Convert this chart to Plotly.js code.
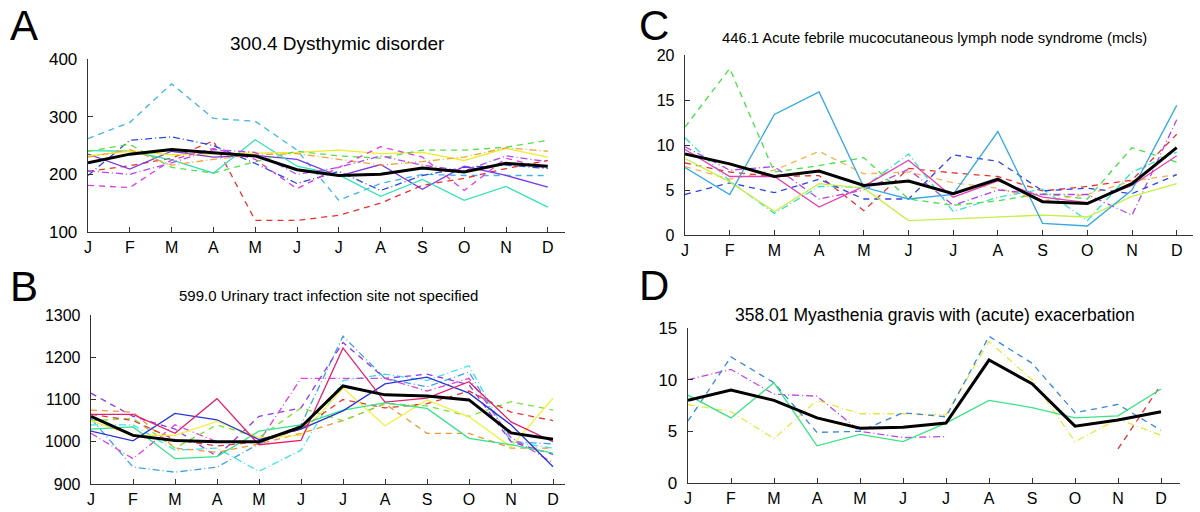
<!DOCTYPE html>
<html><head><meta charset="utf-8">
<script src="https://cdn.plot.ly/plotly-3.0.1.min.js"></script>
<style>html,body{margin:0;padding:0;background:#fff}#chart{width:1200px;height:512px}</style>
</head><body><div id="chart"></div>
<script>
// ---------- data ----------
const months = ["J","F","M","A","M","J","J","A","S","O","N","D"];

// Panel A: 300.4 Dysthymic disorder
const A_mean      = [220,235,243,238,232,208,198,200,211,204,219,214];
const A_lightblue = [262,290,357,297,292,242,155,184,200,198,198,198];
const A_red       = [205,215,228,258,120,120,129,150,181,193,210,224];
const A_blue      = [198,259,265,250,219,184,205,172,198,212,216,210];
const A_purple    = [235,209,240,230,233,226,197,217,174,214,198,178];
const A_turq      = [241,240,225,202,260,214,199,162,191,155,179,143];
const A_yellow    = [232,240,234,235,236,238,242,236,238,224,245,230];
const A_green     = [240,252,212,202,222,240,232,228,242,242,247,259];
const A_orange    = [230,243,216,226,234,236,226,216,222,230,246,240];
const A_magenta   = [181,177,225,245,226,175,212,248,230,172,228,210];
const A_violet    = [206,200,220,243,238,200,212,232,216,206,232,222];

// Panel B: 599.0 Urinary tract infection site not specified
const B_mean      = [1060,1015,1003,1000,1000,1035,1132,1111,1108,1099,1021,1006];
const B_crimson   = [1065,1065,1020,1102,993,1003,1222,1094,1103,1142,1047,1000];
const B_blue      = [1025,1002,1067,1052,1005,1030,1073,1137,1153,1115,1040,941];
const B_yellow    = [1050,1015,1015,1048,1010,1015,1127,1038,1099,1059,988,1103];
const B_seagreen  = [1030,1035,960,965,1025,1040,1075,1092,1079,1008,993,973];
const B_lightblue = [1055,940,928,940,995,1040,1250,1150,1130,1165,1000,995];
const B_cyan      = [1040,1040,980,985,930,980,1145,1160,1145,1180,1000,985];
const B_purple    = [1115,1060,1030,965,1060,1080,1235,1150,1160,1135,1000,970];
const B_magenta   = [1020,960,1040,1000,1000,1150,1150,1150,1120,1150,1010,950];
const B_orange    = [1075,1070,985,975,995,1020,1050,1090,1020,1020,985,985];
const B_green     = [1050,1055,985,1040,1010,1080,1050,1090,1085,1060,1095,1075];
const B_red       = [1065,1050,1005,990,1000,1030,1100,1080,1090,1120,1070,1050];

// Panel C: 446.1 Acute febrile mucocutaneous lymph node syndrome (mcls)
const C_mean      = [9.0,7.9,6.5,7.1,5.5,6.0,4.6,6.2,3.7,3.5,5.7,9.7];
const C_lightblue = [7.5,4.5,13.4,15.9,5.3,4.0,4.5,11.5,1.3,1.0,5.0,14.4];
const C_green     = [12.0,18.5,7.0,7.7,8.6,4.0,3.3,3.8,4.6,4.0,9.7,8.1];
const C_lime      = [8.5,5.9,2.6,5.7,5.2,1.6,1.8,2.0,2.2,2.0,4.3,5.7];
const C_orange    = [7.6,6.2,7.2,9.3,6.8,7.0,5.8,5.2,3.8,4.5,6.0,6.7];
const C_pink      = [9.5,6.5,6.5,3.1,5.4,8.3,4.2,6.0,4.2,3.6,5.5,8.8];
const C_purple    = [9.8,7.2,7.6,4.0,5.0,7.3,3.3,5.0,4.5,4.5,2.2,12.8];
const C_red       = [8.0,7.0,6.5,6.6,2.7,7.4,6.9,6.5,4.9,5.4,6.1,11.2];
const C_cyan      = [10.8,6.0,2.4,5.4,5.3,9.0,2.6,4.2,5.1,1.6,7.0,9.2];
const C_blue      = [4.5,5.8,4.7,6.2,4.0,4.0,8.9,8.2,4.9,5.2,4.6,6.7];

// Panel D: 358.01 Myasthenia gravis with (acute) exacerbation
const D_mean      = [8.0,9.0,8.0,6.3,5.3,5.4,5.8,11.9,9.6,5.5,6.1,6.9];
const D_blue      = [6.0,12.2,9.7,4.9,5.0,6.8,6.4,14.2,11.6,6.8,7.6,5.1];
const D_magenta   = [10.0,11.0,8.6,8.4,5.0,4.4,4.5,null,null,null,null,null];
const D_yellow    = [7.6,6.9,4.3,8.0,6.7,6.7,6.6,13.7,10.0,4.0,6.2,4.6];
const D_green     = [8.5,6.3,9.7,3.6,4.7,4.0,5.8,8.0,7.3,6.3,6.5,9.1];
const D_red       = [null,null,null,null,null,null,null,null,null,null,3.3,9.5];

// ---------- styles ----------
const idx = months.map((_, i) => i);
const traces = [];
function add(panel, y, color, dash, width) {
  const ax = {A:["x","y"],B:["x2","y2"],C:["x3","y3"],D:["x4","y4"]}[panel];
  traces.push({x: idx, y: y, xaxis: ax[0], yaxis: ax[1], type: "scatter", mode: "lines",
    line: {color: color, dash: dash, width: width || 1.3}, connectgaps: false,
    hoverinfo: "skip", showlegend: false});
}
const dashL = "6px,5px", dashDot = "7px,3px,1px,3px";

add("A", A_lightblue, "#3db4e6", dashL);
add("A", A_red, "#e8302e", dashL);
add("A", A_blue, "#2c48e0", dashDot);
add("A", A_purple, "#7a3ae0", "solid");
add("A", A_turq, "#35e0b8", "solid");
add("A", A_yellow, "#ecec2a", "solid");
add("A", A_green, "#52e04a", dashL);
add("A", A_orange, "#f3a23a", dashDot);
add("A", A_magenta, "#e23ae0", dashL);
add("A", A_violet, "#b04af0", dashDot);
add("A", A_mean, "#000000", "solid", 3);

add("B", B_lightblue, "#3ea2e4", dashDot);
add("B", B_cyan, "#3ee2ea", dashDot);
add("B", B_purple, "#8c36f0", dashL);
add("B", B_magenta, "#e040e0", dashDot);
add("B", B_orange, "#f29438", dashL);
add("B", B_green, "#7ae03a", dashL);
add("B", B_red, "#e83434", dashL);
add("B", B_yellow, "#f0f040", "solid");
add("B", B_seagreen, "#36e28a", "solid");
add("B", B_blue, "#2a34d4", "solid");
add("B", B_crimson, "#e2206e", "solid");
add("B", B_mean, "#000000", "solid", 3);

add("C", C_green, "#48e048", dashL);
add("C", C_orange, "#f3b454", dashL);
add("C", C_purple, "#b042f0", dashDot);
add("C", C_red, "#e83232", dashL);
add("C", C_cyan, "#36e2c4", dashDot);
add("C", C_blue, "#3444e2", dashL);
add("C", C_pink, "#e640b4", "solid");
add("C", C_lime, "#c4f044", "solid");
add("C", C_lightblue, "#34a8e2", "solid");
add("C", C_mean, "#000000", "solid", 3);

add("D", D_magenta, "#c444e4", dashDot);
add("D", D_yellow, "#e6e844", dashDot);
add("D", D_blue, "#3a86e2", dashL);
add("D", D_red, "#e83232", dashL);
add("D", D_green, "#3ae486", "solid");
add("D", D_mean, "#000000", "solid", 3);

// ---------- layout ----------
const W = 1200, H = 512;
const font = {family: "Liberation Sans, Arial, Helvetica, sans-serif", color: "#000"};
function xa(x0, x1, spacing, anchor) {
  return {domain: [x0 / W, x1 / W], range: [0, (x1 - x0) / spacing], anchor: anchor,
    tickvals: idx, ticktext: months, ticks: "inside", ticklen: 5, tickcolor: "#333",
    showline: true, linecolor: "#333", linewidth: 1.3, showgrid: false, zeroline: false,
    tickfont: Object.assign({size: 16}, font), fixedrange: true};
}
function ya(top, bot, r, dt, anchor, fs) {
  return {domain: [1 - bot / H, 1 - top / H], range: r, dtick: dt, tick0: r[0], anchor: anchor,
    ticks: "inside", ticklen: 5, tickcolor: "#333", showline: true, linecolor: "#333", linewidth: 1.3,
    showgrid: false, zeroline: false, tickfont: Object.assign({size: fs}, font), fixedrange: true,
    ticklabelstandoff: 6};
}
function ann(text, x, y, size, ya) {
  return {text: text, x: x / W, y: 1 - y / H, xref: "paper", yref: "paper", xanchor: "center",
    yanchor: ya || "middle", showarrow: false, font: Object.assign({size: size}, font)};
}
const layout = {
  width: W, height: H, margin: {l: 0, r: 0, t: 0, b: 0}, paper_bgcolor: "#fff", plot_bgcolor: "#fff",
  showlegend: false,
  xaxis: xa(88, 565, 41.8, "y"),   yaxis: ya(59, 232, [100, 400], 100, "x", 17),
  xaxis2: xa(91, 565, 42, "y2"),   yaxis2: ya(315, 484, [900, 1300], 100, "x2", 16),
  xaxis3: xa(685, 1193, 44.7, "y3"), yaxis3: ya(55, 235, [0, 20], 5, "x3", 16),
  xaxis4: xa(688, 1180, 43, "y4"), yaxis4: ya(328, 483, [0, 15], 5, "x4", 17),
  annotations: [
    ann("300.4 Dysthymic disorder", 337, 43, 19),
    ann("599.0 Urinary tract infection site not specified", 328, 295, 15),
    ann("446.1 Acute febrile mucocutaneous lymph node syndrome (mcls)", 934, 38, 14.8),
    ann("358.01 Myasthenia gravis with (acute) exacerbation", 935, 315, 17.5),
    ann("A", 24, 0, 42, "top"),
    ann("B", 24, 286, 42),
    ann("C", 654, 0, 42, "top"),
    ann("D", 654, 285, 42)
  ]
};
Plotly.newPlot("chart", traces, layout, {staticPlot: true, displayModeBar: false});
</script></body></html>
